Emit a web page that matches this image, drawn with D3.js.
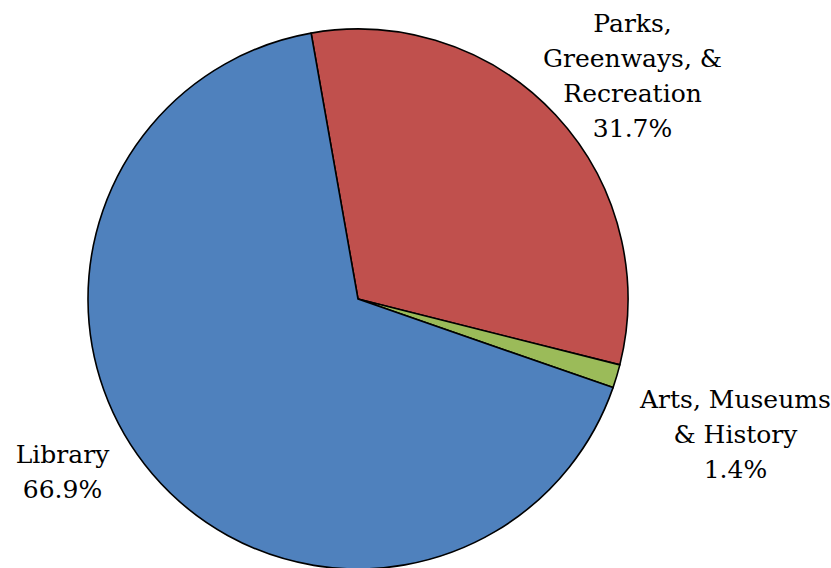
<!DOCTYPE html>
<html>
<head>
<meta charset="utf-8">
<script src="https://cdn.jsdelivr.net/npm/d3@7"></script>
<style>
  html, body { margin: 0; padding: 0; background: #fff; }
  svg { display: block; }
  text { font-family: "DejaVu Serif", "Liberation Serif", serif; fill: #000; }
</style>
</head>
<body>
<svg id="chart" width="831" height="568"></svg>
<script>
// Spending shares by department (percent)
const categories = ["Parks, Greenways, & Recreation", "Arts, Museums & History", "Library"];
const values = [31.7, 1.4, 66.9];
const labelLines = [
  ["Parks,", "Greenways, &", "Recreation"],
  ["Arts, Museums", "& History"],
  ["Library"]
];
const colors = ["#C0504D", "#9BBB59", "#4F81BD"];

const W = 831, H = 568;
const cx = 358, cy = 299, R = 270;
const fontSize = 25, lineH = 35;

// label placement around the pie: radial distance and angular nudge (degrees)
const labelLayout = [
  { dist: 354, nudge: 3.8 },
  { dist: 401, nudge: 3.1 },
  { dist: 342, nudge: 10.2 }
];

const svg = d3.select("#chart");
const g = svg.append("g").attr("transform", `translate(${cx},${cy})`);

const deg = Math.PI / 180;
const pie = d3.pie().sort(null).value(d => d.value).startAngle(-10 * deg).endAngle(350 * deg);
const data = categories.map((c, i) => ({ name: c, value: values[i], lines: labelLines[i], color: colors[i], layout: labelLayout[i] }));
const arcs = pie(data);
const arc = d3.arc().innerRadius(0).outerRadius(R);

g.selectAll("path.slice")
  .data(arcs)
  .join("path")
  .attr("class", "slice")
  .attr("d", arc)
  .attr("fill", d => d.data.color)
  .attr("stroke", "#000")
  .attr("stroke-width", 1.6)
  .attr("stroke-linejoin", "round");

const fmt = d3.format(".1f");
const labels = g.selectAll("text.label")
  .data(arcs)
  .join("text")
  .attr("class", "label")
  .attr("text-anchor", "middle")
  .style("font-size", fontSize + "px");

labels.each(function(d) {
  const mid = (d.startAngle + d.endAngle) / 2 + d.data.layout.nudge * deg;
  const x = Math.sin(mid) * d.data.layout.dist;
  const y = -Math.cos(mid) * d.data.layout.dist;
  const lines = d.data.lines.concat([fmt(d.data.value) + "%"]);
  const y0 = y - (lines.length - 1) * lineH / 2 + 0.36 * fontSize;
  const t = d3.select(this);
  lines.forEach((ln, i) => {
    t.append("tspan").attr("x", x).attr("y", y0 + i * lineH).text(ln);
  });
});
</script>
</body>
</html>
